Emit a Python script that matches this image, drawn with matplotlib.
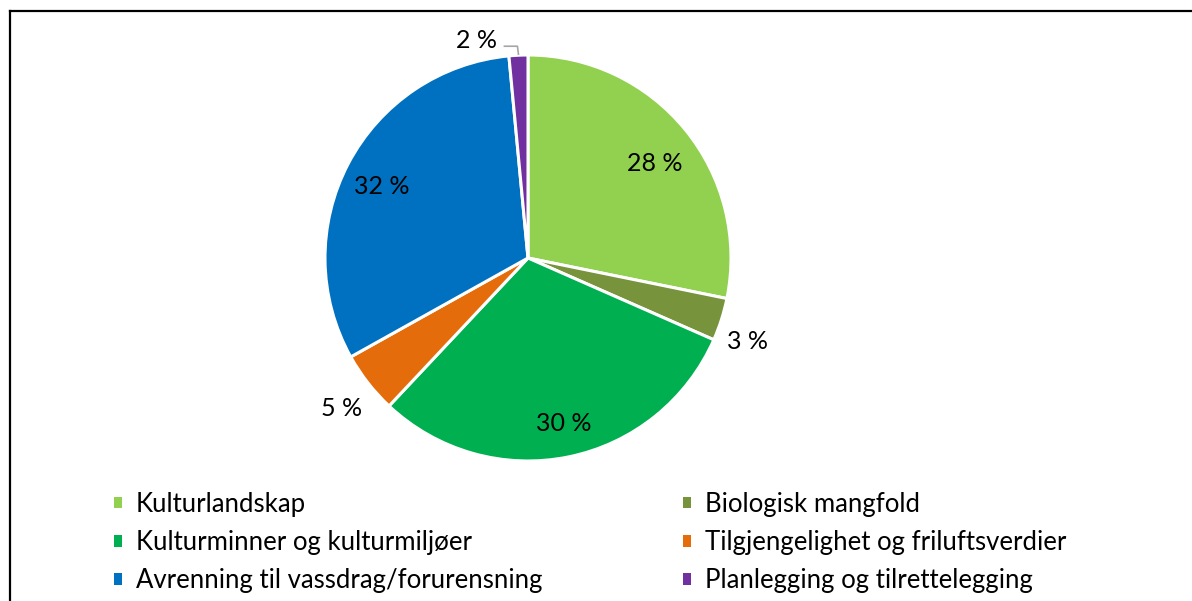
import numpy as np
import matplotlib.pyplot as plt
from matplotlib.patches import Patch
from matplotlib.lines import Line2D

plt.rcParams['font.family'] = ['Lato', 'DejaVu Sans']

# data (shares in percent)
categories = ['Kulturlandskap', 'Biologisk mangfold', 'Kulturminner og kulturmiljøer',
              'Tilgjengelighet og friluftsverdier', 'Avrenning til vassdrag/forurensning',
              'Planlegging og tilrettelegging']
values = [28.2, 3.4, 30.4, 4.9, 31.6, 1.5]
labels = ['28 %', '3 %', '30 %', '5 %', '32 %', '2 %']
colors = ['#92D050', '#77933C', '#00B050', '#E46C0A', '#0070C0', '#7030A0']

W, H = 1192, 601
fig = plt.figure(figsize=(W / 100, H / 100), dpi=100)
ax = fig.add_axes([0, 0, 1, 1])

cx, cy, R = 528, H - 258, 203
wedges, _ = ax.pie(values, colors=colors, startangle=90, counterclock=False,
                   center=(cx, cy), radius=R,
                   wedgeprops=dict(edgecolor='white', linewidth=2.2))
ax.set_xlim(0, W)
ax.set_ylim(0, H)
ax.set_aspect('equal')
ax.axis('off')

# label distance (fraction of radius) and angle nudge (deg), per slice
dist = [0.778, 1.158, 0.832, 1.182, 0.801, None]
nudge = [-2.4, -3.1, 0.8, 1.0, 1.6, 0]
for w, lab, d, dn in zip(wedges, labels, dist, nudge):
    if d is None:
        continue
    ang = np.deg2rad((w.theta1 + w.theta2) / 2 + dn)
    ax.text(cx + d * R * np.cos(ang), cy + d * R * np.sin(ang), lab,
            ha='center', va='center', fontsize=18, color='black')

# small slice: label with leader line
w = wedges[5]
ang = np.deg2rad((w.theta1 + w.theta2) / 2)
ex, ey = cx + R * np.cos(ang), cy + R * np.sin(ang)
ax.plot([ex - 14, ex - 1, ex], [ey + 9, ey + 9, ey + 1], color='#A6A6A6', lw=1.2)
ax.text(ex - 21, ey + 15, labels[5], ha='right', va='center', fontsize=18, color='black')

# legend, row-wise order like the original
order = [0, 2, 4, 1, 3, 5]
handles = [Patch(facecolor=colors[i], edgecolor='none') for i in order]
ax.legend(handles, [categories[i] for i in order], ncol=2, frameon=False,
          loc='upper left', bbox_to_anchor=(114 / W, 1 - 492 / H),
          fontsize=18.5, handlelength=0.31, handleheight=0.31, handletextpad=0.55,
          labelspacing=0.51, columnspacing=5.45, borderaxespad=0, borderpad=0)

# outer frame (only left and top edges visible)
fig.add_artist(Line2D([9.5 / W, 9.5 / W], [0, 1 - 10.5 / H], color='black', lw=1.6))
fig.add_artist(Line2D([9.5 / W, 1], [1 - 10.5 / H, 1 - 10.5 / H], color='black', lw=1.6))

fig.savefig('out.png', dpi=100)
